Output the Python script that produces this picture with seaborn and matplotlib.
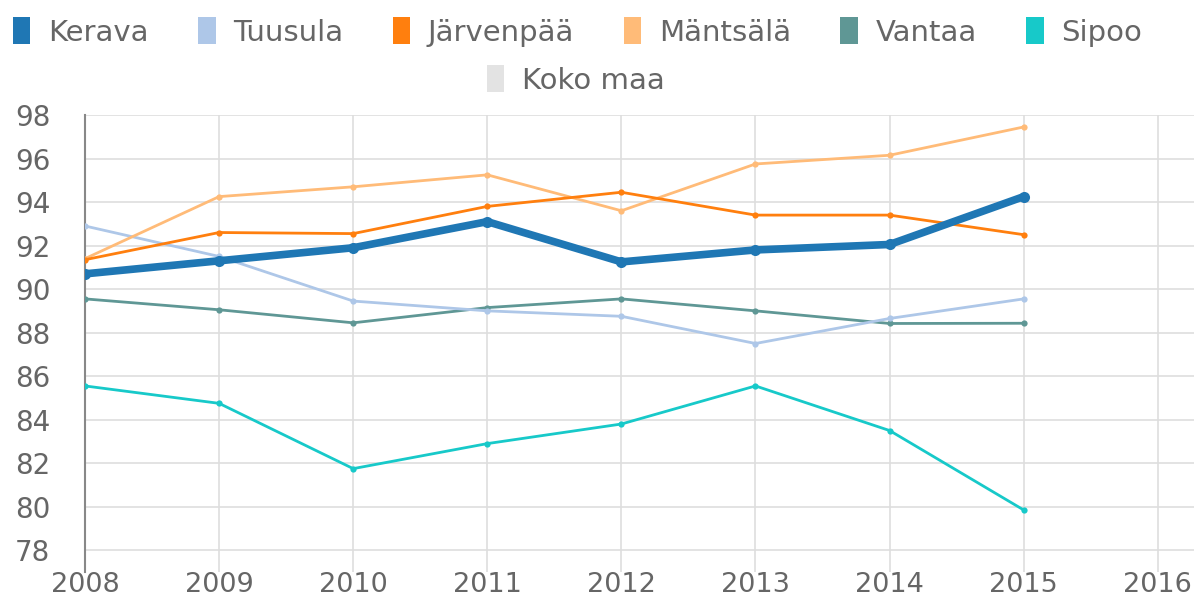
import matplotlib
matplotlib.use("Agg")
import matplotlib.pyplot as plt
import seaborn as sns
import pandas as pd
import numpy as np
from matplotlib.patches import Patch

years = [2008, 2009, 2010, 2011, 2012, 2013, 2014, 2015]
kerava = [90.7, 91.3, 91.9, 93.1, 91.25, 91.8, 92.05, 94.25]
tuusula = [92.9, 91.5, 89.45, 89.0, 88.75, 87.5, 88.65, 89.55]
jarvenpaa = [91.35, 92.6, 92.55, 93.8, 94.45, 93.4, 93.4, 92.5]
mantsala = [91.4, 94.25, 94.7, 95.25, 93.6, 95.75, 96.15, 97.45]
vantaa = [89.55, 89.05, 88.45, 89.15, 89.55, 89.0, 88.42, 88.43]
sipoo = [85.55, 84.75, 81.75, 82.9, 83.8, 85.55, 83.5, 79.85]
koko_maa = [np.nan] * 8

series_names = ["Kerava", "Tuusula", "Järvenpää", "Mäntsälä", "Vantaa", "Sipoo", "Koko maa"]
series_values = [kerava, tuusula, jarvenpaa, mantsala, vantaa, sipoo, koko_maa]
colors = ["#1f77b4", "#aec7e8", "#ff7f0e", "#ffbb78", "#5f9795", "#17c9c9", "#e3e3e3"]
x_ticks = [2008, 2009, 2010, 2011, 2012, 2013, 2014, 2015, 2016]
y_ticks = [78, 80, 82, 84, 86, 88, 90, 92, 94, 96, 98]

rows = []
for name, vals in zip(series_names, series_values):
    for y, v in zip(years, vals):
        rows.append({"Vuosi": y, "Arvo": v, "Kunta": name})
df = pd.DataFrame(rows)

sns.set_theme(style="white")
plt.rcParams['font.family'] = ['DejaVu Sans']

W, H = 1194, 599
fig = plt.figure(figsize=(W / 100, H / 100), dpi=100)
ax = fig.add_axes([85 / W, (H - 572) / H, (W - 85) / W, (572 - 115) / H])

draw_order = ["Sipoo", "Vantaa", "Tuusula", "Mäntsälä", "Järvenpää", "Kerava"]
for name in draw_order:
    i = series_names.index(name)
    sub = df[df["Kunta"] == name]
    thick = name == "Kerava"
    sns.lineplot(data=sub, x="Vuosi", y="Arvo", ax=ax, color=colors[i],
                 linewidth=5.5 if thick else 2.0,
                 marker="o", markersize=8 if thick else 4.5,
                 markeredgewidth=0, legend=False, zorder=5 if thick else 3)

ax.set_xlim(2008, 2016.27)
ax.set_ylim(77, 98)
ax.set_xticks(x_ticks)
ax.set_yticks(y_ticks)
ax.set_xticklabels([str(t) for t in x_ticks])
ax.set_yticklabels([str(t) for t in y_ticks])
ax.set_xlabel("")
ax.set_ylabel("")
ax.grid(True, color="#dedede", linewidth=1.2)
ax.set_axisbelow(True)
for s in ["top", "right", "bottom"]:
    ax.spines[s].set_visible(False)
ax.spines["left"].set_color("#888888")
ax.spines["left"].set_linewidth(1.5)
ax.tick_params(axis="y", length=24, color="#dedede", width=1.2, pad=1,
               labelsize=20, labelcolor="#666666")
ax.tick_params(axis="x", length=0, pad=0, labelsize=19.5, labelcolor="#666666")

handles = [Patch(facecolor=c, edgecolor="none") for c in colors]
leg1 = fig.legend(handles[:6], series_names[:6], loc="center", ncol=6,
                  bbox_to_anchor=(0.4837, 1 - 32 / H), frameon=False, fontsize=21,
                  handlelength=0.6, handleheight=1.0, handletextpad=0.6,
                  columnspacing=1.7, labelcolor="#666666")
leg2 = fig.legend(handles[6:], series_names[6:], loc="center", ncol=1,
                  bbox_to_anchor=(0.482, 1 - 80 / H), frameon=False, fontsize=21,
                  handlelength=0.6, handleheight=1.0, handletextpad=0.6,
                  labelcolor="#666666")

fig.savefig("out.png", dpi=100)
